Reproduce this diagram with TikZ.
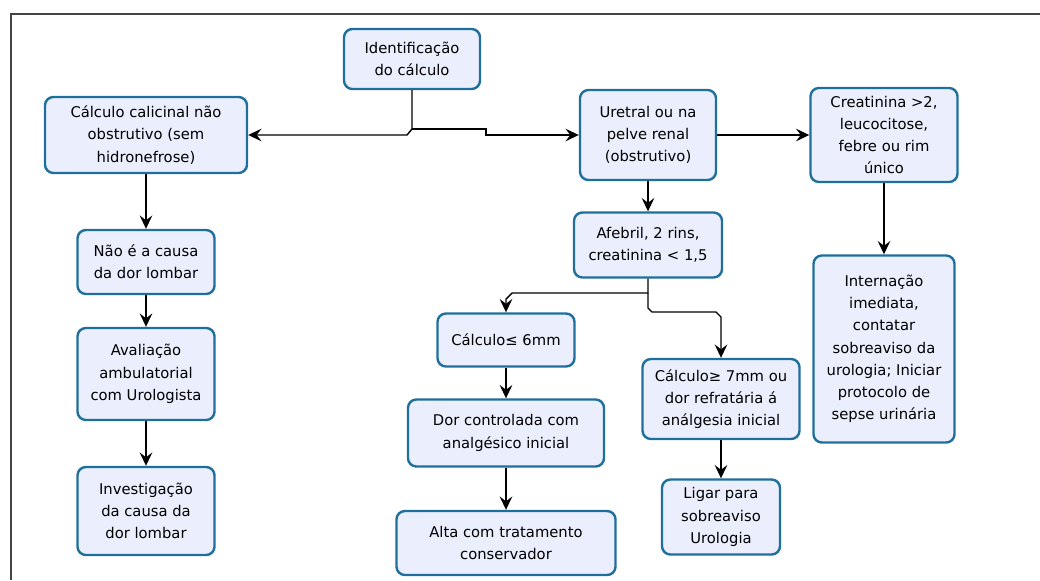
\documentclass[tikz,border=0pt]{standalone}
\usepackage{fontspec}
\setmainfont{DejaVu Sans}
\usepackage{tikz}
\usetikzlibrary{positioning, arrows.meta}

\definecolor{boxline}{HTML}{1F6F9C}
\definecolor{boxfill}{HTML}{EBEEFC}
\definecolor{framegray}{HTML}{444444}

\begin{document}
\begin{tikzpicture}[x=0.025cm,y=-0.025cm,
        box/.style={rectangle,rounded corners=6pt,draw=boxline,fill=boxfill,line width=1.7pt,
                    align=center,text=black,inner sep=2pt,font=\fontsize{10.5}{15.8}\selectfont},
        arr/.style={line width=1pt,-{Stealth[length=9.5pt,width=9pt,inset=3.5pt]}}]

        \useasboundingbox (0,0) rectangle (1040,580);
        \draw[framegray,line width=1.4pt] (11,580) -- (11,14) -- (1040,14);

        \node[box,minimum width=3.4cm,minimum height=1.5cm]   (ident)  at (412,59)  {Identificação\\do cálculo};
        \node[box,minimum width=5.05cm,minimum height=1.9cm]  (calic)  at (146,135) {Cálculo calicinal não\\obstrutivo (sem\\hidronefrose)};
        \node[box,minimum width=3.4cm,minimum height=2.25cm]  (uret)   at (648,135) {Uretral ou na\\pelve renal\\(obstrutivo)};
        \node[box,minimum width=3.675cm,minimum height=2.35cm] (creat) at (884,135) {Creatinina >2,\\leucocitose,\\febre ou rim\\único};

        \node[box,minimum width=3.425cm,minimum height=1.6cm] (naocausa) at (146,262) {Não é a causa\\da dor lombar};
        \node[box,minimum width=3.425cm,minimum height=2.3cm] (aval)     at (146,374) {Avaliação\\ambulatorial\\com Urologista};
        \node[box,minimum width=3.425cm,minimum height=2.2cm] (invest)   at (146,511) {Investigação\\da causa da\\dor lombar};

        \node[box,minimum width=3.7cm,minimum height=1.625cm] (afebril) at (648,245) {Afebril, 2 rins,\\creatinina < 1,5};
        \node[box,minimum width=3.425cm,minimum height=1.325cm] (menor) at (506,340) {Cálculo≤ 6mm};
        \node[box,minimum width=4.9cm,minimum height=1.675cm]  (dor)    at (506,433) {Dor controlada com\\analgésico inicial};
        \node[box,minimum width=5.475cm,minimum height=1.6cm]  (alta)   at (506,543) {Alta com tratamento\\conservador};
        \node[box,minimum width=3.925cm,minimum height=2cm]    (maior)  at (721,399) {Cálculo≥ 7mm ou\\dor refratária á\\análgesia inicial};
        \node[box,minimum width=2.95cm,minimum height=1.875cm] (ligar)  at (721,517) {Ligar para\\sobreaviso\\Urologia};

        \node[box,minimum width=3.525cm,minimum height=4.675cm] (intern) at (884,349) {Internação\\imediata,\\contatar\\sobreaviso da\\urologia; Iniciar\\protocolo de\\sepse urinária};

        % split under the first box
        \coordinate (split) at (412,129);
        \draw[arr] (ident) -- (split) -- ++(-5,6) -- (calic.east);
        \draw[arr] (split) -- (486,129) -- (486,135) -- (uret.west);

        % split under afebril
        \coordinate (fork) at (648,293);
        \draw[arr] (afebril) -- (fork) -- (512,293) -- (506,299) -- (menor.north);
        \draw[arr] (fork) -- (648,308) -- (652,312) -- (716,312) -- (721,317) -- (maior.north);

        \path[arr]
                  (uret)     edge [] node []{} (creat)
                  (uret)     edge [] node []{} (afebril)
                  (creat)    edge [] node []{} (intern)

                  (calic)    edge [] node []{} (naocausa)
                  (naocausa) edge [] node []{} (aval)
                  (aval)     edge [] node []{} (invest)

                  (menor)    edge [] node []{} (dor)
                  (dor)      edge [] node []{} (alta)
                  (maior)    edge [] node []{} (ligar);
    \end{tikzpicture}
\end{document}
